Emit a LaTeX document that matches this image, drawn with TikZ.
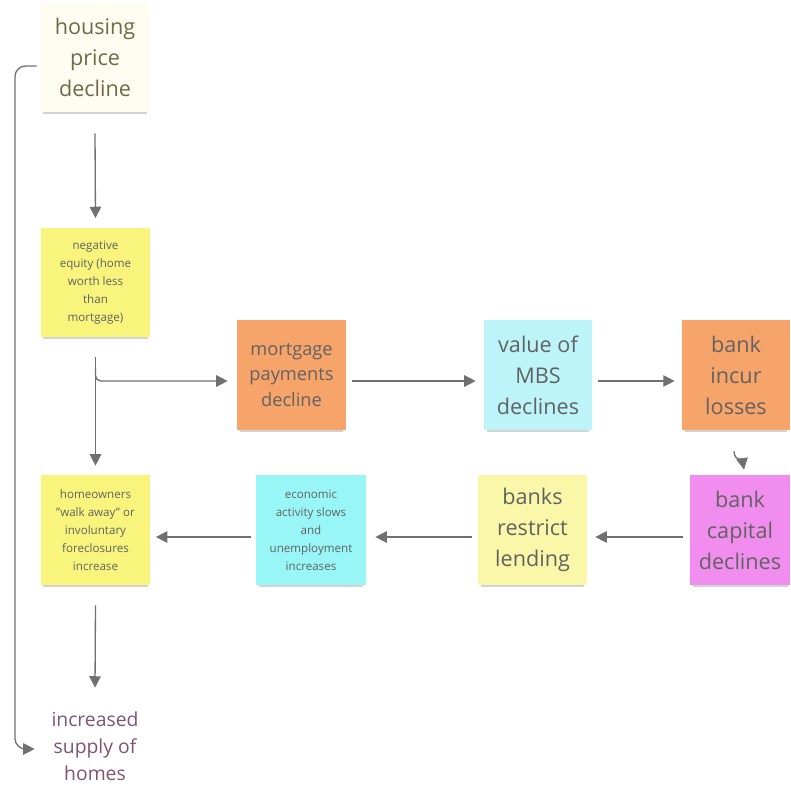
\documentclass[tikz,border=0pt]{standalone}
\usepackage{fontspec}
\setmainfont{Open Sans}
\usetikzlibrary{calc, arrows.meta, shadows}
\definecolor{txtgray}{HTML}{626262}
\definecolor{arrgray}{HTML}{707070}
\definecolor{stickyyellow}{HTML}{F9F47C}
\definecolor{paleyellow}{HTML}{FAF8A8}
\definecolor{faintyellow}{HTML}{FFFDF2}
\definecolor{stickyorange}{HTML}{F7A46A}
\definecolor{paleblue}{HTML}{BDF4F9}
\definecolor{stickycyan}{HTML}{98F6F7}
\definecolor{stickypink}{HTML}{F28DF0}
\definecolor{olivetxt}{HTML}{6E6A48}
\definecolor{plumtxt}{HTML}{7E5470}
\tikzset{
  sticky/.style={minimum width=2.2cm, minimum height=2.2cm, inner sep=0pt,
    align=center, text=txtgray,
    drop shadow={shadow xshift=0pt, shadow yshift=-2.6pt, shadow scale=0.95, opacity=.35}},
  bigtxt/.style={font=\fontsize{12.3}{17.6}\selectfont},
  midtxt/.style={font=\fontsize{10.4}{14.7}\selectfont},
  smalltxt/.style={font=\fontsize{6.6}{10.2}\selectfont},
  arr/.style={-{Triangle[length=6.5pt,width=6.5pt]}, draw=arrgray, line width=0.75pt}
}
\begin{document}
\begin{tikzpicture}[x=0.02cm, y=-0.02cm]
\useasboundingbox (0,0) rectangle (790,803);
% top of the chain and its end
\node[sticky, bigtxt, fill=faintyellow, text=olivetxt] (hpd) at (95,57) {housing\\price\\decline};
\node[minimum width=2.2cm, minimum height=2.0cm, inner sep=0pt, align=center, text=plumtxt,
  font=\fontsize{11}{15.3}\selectfont] (isoh) at (95,746) {increased\\supply of\\homes};
% first row
\node[sticky, smalltxt, fill=stickyyellow] (neg) at (95.5,282.5) {negative\\equity (home\\worth less\\than\\mortgage)};
\node[sticky, midtxt, fill=stickyorange, minimum width=2.18cm] (mpd) at (291.5,375) {mortgage\\payments\\decline};
\node[sticky, bigtxt, fill=paleblue, minimum width=2.16cm] (mbs) at (538,375) {value of\\MBS\\declines};
\node[sticky, bigtxt, fill=stickyorange, minimum width=2.16cm] (bil) at (736,375) {bank\\incur\\losses};
% second row
\node[sticky, bigtxt, fill=stickypink, minimum width=2.0cm] (bcd) at (740,530) {bank\\capital\\declines};
\node[sticky, bigtxt, fill=paleyellow, minimum width=2.18cm] (brl) at (532.5,530) {banks\\restrict\\lending};
\node[sticky, smalltxt, fill=stickycyan] (eas) at (311,530) {economic\\activity slows\\and\\unemployment\\increases};
\node[sticky, smalltxt, fill=stickyyellow] (hfi) at (95.5,530) {homeowners\\"walk away" or\\involuntary\\foreclosures\\increase};
% connectors
\draw[arr] ($(hpd.south)+(0,21)$) -- ($(neg.north)+(0,-9)$);
\draw[arr] ($(neg.south)+(0,19)$) -- ($(hfi.north)+(0,-9)$);
\draw[arr, rounded corners=3pt] ($(neg.south)+(0,30)$) |- ($(mpd.west)+(-9,6)$);
\draw[arr] ($(mpd.east)+(6,6)$) -- ($(mbs.west)+(-8,6)$);
\draw[arr] ($(mbs.east)+(6,6)$) -- ($(bil.west)+(-7,6)$);
\draw[arr] ($(bil.south)+(-2,21)$) .. controls ($(bil.south)+(-1,32)$) and ($(bil.south)+(6,28)$) .. ($(bcd.north)+(4,-5)$);
\draw[arr] ($(bcd.west)+(-7,7)$) -- ($(brl.east)+(8,7)$);
\draw[arr] ($(brl.west)+(-6,7)$) -- ($(eas.east)+(9,7)$);
\draw[arr] ($(eas.west)+(-5,7)$) -- ($(hfi.east)+(5,7)$);
\draw[arr] ($(hfi.south)+(0,20)$) -- ($(isoh.north)+(0,-8)$);
\draw[arr, rounded corners=6pt] ($(hpd.west)+(-3,9)$) -| (15,400) |- ($(isoh.west)+(-5,3)$);
\end{tikzpicture}
\end{document}
